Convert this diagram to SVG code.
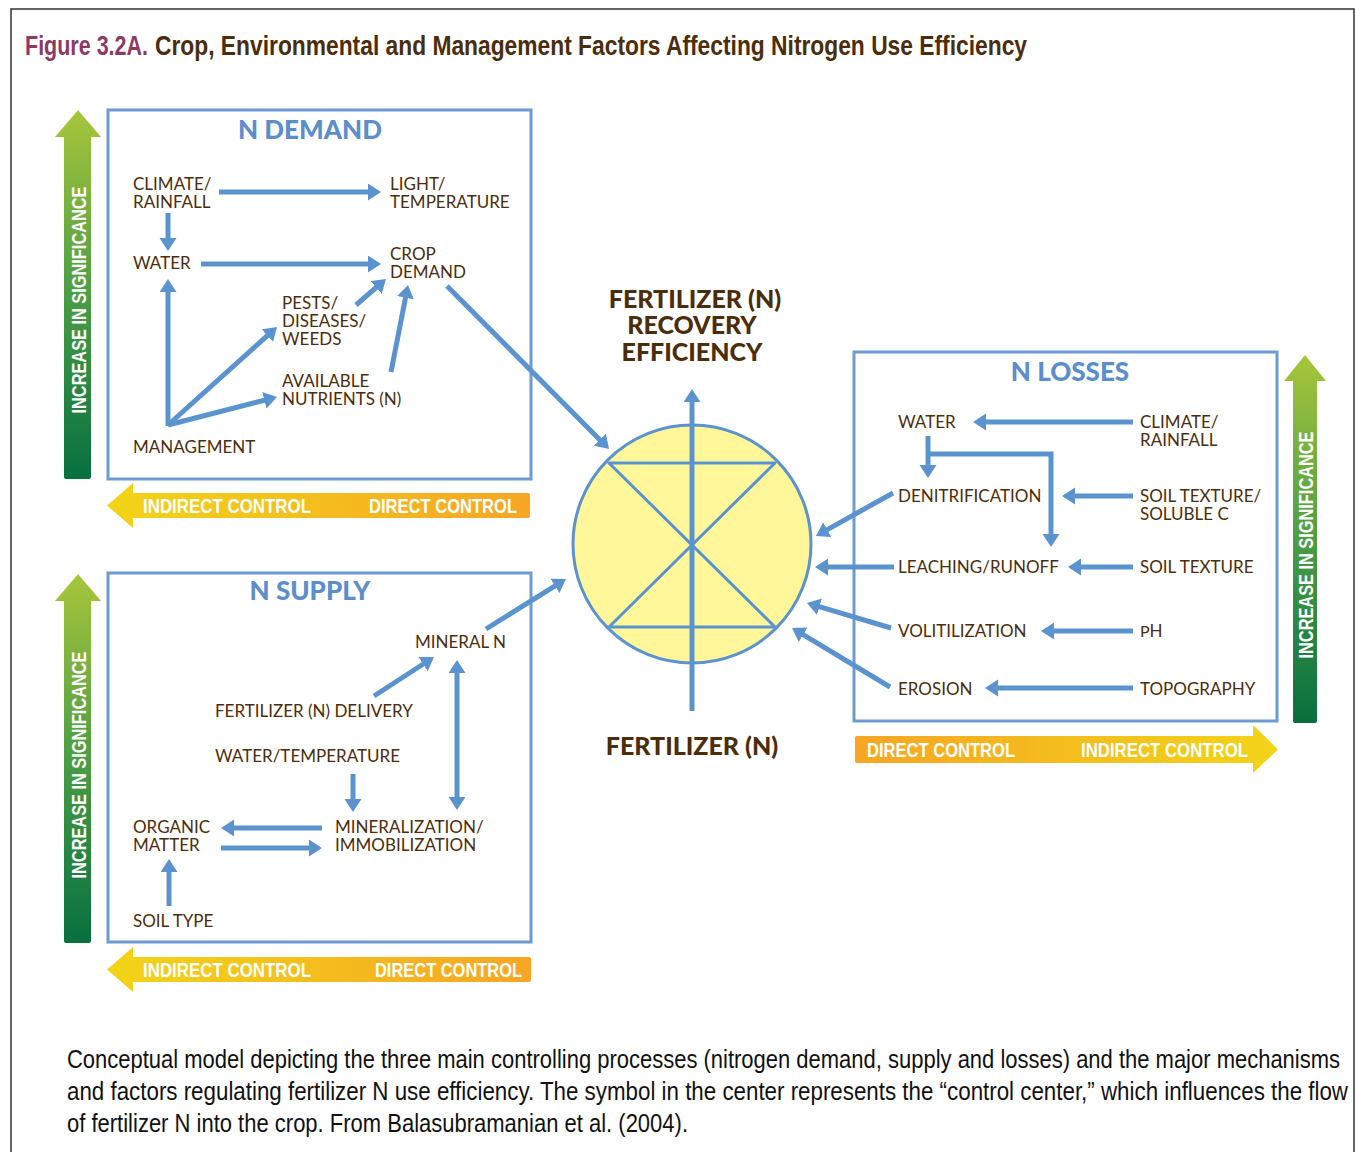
<svg xmlns="http://www.w3.org/2000/svg" width="1356" height="1152" viewBox="0 0 1356 1152">
<style>
.lbl{font-family:Lato,"Liberation Sans",sans-serif;font-size:17px;fill:#4b2d0b}
.btitle{font-family:Lato,"Liberation Sans",sans-serif;font-size:26px;font-weight:900;fill:#5b8ecb}
.ctitle{font-family:Lato,"Liberation Sans",sans-serif;font-size:25px;font-weight:900;fill:#4b2d0b;text-anchor:middle}
.box{fill:none;stroke:#6b9bd2;stroke-width:3}
.conn{fill:none;stroke:#5b93cf;stroke-width:5}
.ctl{font-family:"Liberation Sans",sans-serif;font-size:20px;font-weight:bold;fill:#ffffff}
.sig{font-family:"Liberation Sans",sans-serif;font-size:21px;font-weight:bold;fill:#ffffff;text-anchor:middle}
.cap{font-family:"Liberation Sans",sans-serif;font-size:26px;fill:#111111}
</style>
<defs>
<marker id="ah" markerUnits="userSpaceOnUse" markerWidth="16" markerHeight="18" refX="3" refY="8.5" orient="auto-start-reverse">
<path d="M0,0 L13,8.5 L0,17 Z" fill="#5b93cf"/>
</marker>
<linearGradient id="gv" x1="0" y1="0" x2="0" y2="1">
<stop offset="0" stop-color="#a8c53a"/>
<stop offset="0.5" stop-color="#4b9d45"/>
<stop offset="1" stop-color="#07703f"/>
</linearGradient>
<linearGradient id="goL" x1="0" y1="0" x2="1" y2="0">
<stop offset="0" stop-color="#f2d417"/>
<stop offset="1" stop-color="#f6a624"/>
</linearGradient>
<linearGradient id="goR" x1="0" y1="0" x2="1" y2="0">
<stop offset="0" stop-color="#f6a624"/>
<stop offset="1" stop-color="#f2d417"/>
</linearGradient>
</defs>

<rect x="11" y="9" width="1343" height="1160" fill="#ffffff" stroke="#333333" stroke-width="1.5"/>

<g id="title">
<text x="25" y="55" font-family="Liberation Sans,sans-serif" font-size="27" font-weight="bold" fill="#8b3a62" textLength="123" lengthAdjust="spacingAndGlyphs">Figure 3.2A.</text>
<text x="155" y="55" font-family="Liberation Sans,sans-serif" font-size="27" font-weight="bold" fill="#4b2d0b" textLength="872" lengthAdjust="spacingAndGlyphs">Crop, Environmental and Management Factors Affecting Nitrogen Use Efficiency</text>
</g>

<!-- significance / control arrows -->
<g id="sig-demand">
<path d="M78,110 L101,137 L91,137 L91,477 Q91,479 89,479 L66,479 Q64,479 64,477 L64,137 L55,137 Z" fill="url(#gv)"/>
<text class="sig" transform="translate(85.5,300) rotate(-90)" textLength="227" lengthAdjust="spacingAndGlyphs">INCREASE IN SIGNIFICANCE</text>
</g>
<g id="ctl-demand">
<path d="M107,505.5 L133,483 L133,493 L528,493 Q530,493 530,495 L530,516 Q530,518 528,518 L133,518 L133,528 Z" fill="url(#goL)"/>
<text class="ctl" x="143" y="513" textLength="168" lengthAdjust="spacingAndGlyphs">INDIRECT CONTROL</text>
<text class="ctl" x="369" y="513" textLength="148" lengthAdjust="spacingAndGlyphs">DIRECT CONTROL</text>
</g>
<g id="sig-supply">
<path d="M78,574 L101,601 L91,601 L91,941 Q91,943 89,943 L66,943 Q64,943 64,941 L64,601 L55,601 Z" fill="url(#gv)"/>
<text class="sig" transform="translate(85.5,765) rotate(-90)" textLength="227" lengthAdjust="spacingAndGlyphs">INCREASE IN SIGNIFICANCE</text>
</g>
<g id="ctl-supply">
<path d="M107,969.5 L133,947 L133,957 L529,957 Q531,957 531,959 L531,980 Q531,982 529,982 L133,982 L133,992 Z" fill="url(#goL)"/>
<text class="ctl" x="143" y="977" textLength="168" lengthAdjust="spacingAndGlyphs">INDIRECT CONTROL</text>
<text class="ctl" x="375" y="977" textLength="147" lengthAdjust="spacingAndGlyphs">DIRECT CONTROL</text>
</g>
<g id="sig-losses">
<path d="M1305,355 L1326,381 L1317,381 L1317,721 Q1317,723 1315,723 L1295,723 Q1293,723 1293,721 L1293,381 L1284,381 Z" fill="url(#gv)"/>
<text class="sig" transform="translate(1312.5,545) rotate(-90)" textLength="227" lengthAdjust="spacingAndGlyphs">INCREASE IN SIGNIFICANCE</text>
</g>
<g id="ctl-losses">
<path d="M857,736 L1253,736 L1253,725 L1278,749.5 L1253,773 L1253,763 L857,763 Q855,763 855,761 L855,738 Q855,736 857,736 Z" fill="url(#goR)"/>
<text class="ctl" x="867" y="757" textLength="148" lengthAdjust="spacingAndGlyphs">DIRECT CONTROL</text>
<text class="ctl" x="1081" y="757" textLength="167" lengthAdjust="spacingAndGlyphs">INDIRECT CONTROL</text>
</g>

<!-- boxes -->
<g id="n-demand">
<rect class="box" x="108" y="110" width="423" height="369"/>
<text class="btitle" x="310" y="139" text-anchor="middle">N DEMAND</text>
</g>
<g id="n-supply">
<rect class="box" x="108" y="573" width="423" height="369"/>
<text class="btitle" x="310" y="600" text-anchor="middle">N SUPPLY</text>
</g>
<g id="n-losses">
<rect class="box" x="854" y="352" width="423" height="369"/>
<text class="btitle" x="1070" y="381" text-anchor="middle">N LOSSES</text>
</g>

<!-- demand nodes -->
<g id="d-climate"><text class="lbl" x="133" y="190">CLIMATE/</text><text class="lbl" x="133" y="208">RAINFALL</text></g>
<g id="d-light"><text class="lbl" x="390" y="190">LIGHT/</text><text class="lbl" x="390" y="208">TEMPERATURE</text></g>
<g id="d-water"><text class="lbl" x="133" y="269">WATER</text></g>
<g id="d-crop"><text class="lbl" x="390" y="260">CROP</text><text class="lbl" x="390" y="278">DEMAND</text></g>
<g id="d-pests"><text class="lbl" x="282" y="309">PESTS/</text><text class="lbl" x="282" y="327">DISEASES/</text><text class="lbl" x="282" y="345">WEEDS</text></g>
<g id="d-avail"><text class="lbl" x="282" y="387">AVAILABLE</text><text class="lbl" x="282" y="405">NUTRIENTS (N)</text></g>
<g id="d-mgmt"><text class="lbl" x="133" y="453">MANAGEMENT</text></g>

<!-- supply nodes -->
<g id="s-mineral"><text class="lbl" x="415" y="648">MINERAL N</text></g>
<g id="s-fert"><text class="lbl" x="215" y="717">FERTILIZER (N) DELIVERY</text></g>
<g id="s-watertemp"><text class="lbl" x="215" y="762">WATER/TEMPERATURE</text></g>
<g id="s-organic"><text class="lbl" x="133" y="833">ORGANIC</text><text class="lbl" x="133" y="851">MATTER</text></g>
<g id="s-minimm"><text class="lbl" x="335" y="833">MINERALIZATION/</text><text class="lbl" x="335" y="851">IMMOBILIZATION</text></g>
<g id="s-soiltype"><text class="lbl" x="133" y="927">SOIL TYPE</text></g>

<!-- losses nodes -->
<g id="l-water"><text class="lbl" x="898" y="428">WATER</text></g>
<g id="l-climate"><text class="lbl" x="1140" y="428">CLIMATE/</text><text class="lbl" x="1140" y="446">RAINFALL</text></g>
<g id="l-denit"><text class="lbl" x="898" y="502">DENITRIFICATION</text></g>
<g id="l-soiltexc"><text class="lbl" x="1140" y="502">SOIL TEXTURE/</text><text class="lbl" x="1140" y="520">SOLUBLE C</text></g>
<g id="l-leach"><text class="lbl" x="898" y="573">LEACHING/RUNOFF</text></g>
<g id="l-soiltex"><text class="lbl" x="1140" y="573">SOIL TEXTURE</text></g>
<g id="l-vol"><text class="lbl" x="898" y="637">VOLITILIZATION</text></g>
<g id="l-ph"><text class="lbl" x="1140" y="637" font-size="18"><tspan font-size="16">P</tspan>H</text></g>
<g id="l-erosion"><text class="lbl" x="898" y="695">EROSION</text></g>
<g id="l-topo"><text class="lbl" x="1140" y="695">TOPOGRAPHY</text></g>

<!-- center -->
<g id="center">
<text class="ctitle" x="695" y="308">FERTILIZER (N)</text>
<text class="ctitle" x="692" y="334">RECOVERY</text>
<text class="ctitle" x="692" y="361">EFFICIENCY</text>
<circle cx="692" cy="544" r="119" fill="#fff799" stroke="#5b93cf" stroke-width="3"/>
<path d="M609,463 H775 L609,627 H775 Z" fill="none" stroke="#5b93cf" stroke-width="3" stroke-linejoin="round"/>
<text class="ctitle" x="692" y="755">FERTILIZER (N)</text>
</g>

<g id="connectors">
<line class="conn" x1="692" y1="711" x2="692" y2="399" marker-end="url(#ah)"/>
<!-- demand -->
<line class="conn" x1="219" y1="192" x2="371" y2="192" marker-end="url(#ah)"/>
<line class="conn" x1="168" y1="213" x2="168" y2="241" marker-end="url(#ah)"/>
<line class="conn" x1="201" y1="264" x2="371" y2="264" marker-end="url(#ah)"/>
<line class="conn" x1="168" y1="426" x2="168" y2="289" marker-end="url(#ah)"/>
<line class="conn" x1="168" y1="425" x2="269.6" y2="333.7" marker-end="url(#ah)"/>
<line class="conn" x1="168" y1="425" x2="267.3" y2="399.5" marker-end="url(#ah)"/>
<line class="conn" x1="356" y1="305" x2="378.4" y2="285.5" marker-end="url(#ah)"/>
<line class="conn" x1="391" y1="372" x2="406.1" y2="294.8" marker-end="url(#ah)"/>
<line class="conn" x1="447" y1="286" x2="602" y2="441.9" marker-end="url(#ah)"/>
<!-- losses -->
<line class="conn" x1="1133" y1="422" x2="983" y2="422" marker-end="url(#ah)"/>
<line class="conn" x1="928" y1="436" x2="928" y2="468" marker-end="url(#ah)"/>
<path class="conn" d="M928,454 H1051 V537" marker-end="url(#ah)"/>
<line class="conn" x1="1133" y1="496" x2="1072" y2="496" marker-end="url(#ah)"/>
<line class="conn" x1="1133" y1="567" x2="1078" y2="567" marker-end="url(#ah)"/>
<line class="conn" x1="1133" y1="631" x2="1051" y2="631" marker-end="url(#ah)"/>
<line class="conn" x1="1133" y1="688" x2="995" y2="688" marker-end="url(#ah)"/>
<line class="conn" x1="893" y1="493" x2="824.7" y2="531.1" marker-end="url(#ah)"/>
<line class="conn" x1="894" y1="567" x2="825" y2="567" marker-end="url(#ah)"/>
<line class="conn" x1="891" y1="628" x2="816.6" y2="605.9" marker-end="url(#ah)"/>
<line class="conn" x1="890" y1="687" x2="800.6" y2="633.2" marker-end="url(#ah)"/>
<!-- supply -->
<line class="conn" x1="486" y1="629" x2="557.5" y2="584.3" marker-end="url(#ah)"/>
<line class="conn" x1="374" y1="696" x2="425.6" y2="662.5" marker-end="url(#ah)"/>
<line class="conn" x1="457" y1="670" x2="457" y2="800" marker-start="url(#ah)" marker-end="url(#ah)"/>
<line class="conn" x1="353" y1="774" x2="353" y2="802" marker-end="url(#ah)"/>
<line class="conn" x1="322" y1="828" x2="231" y2="828" marker-end="url(#ah)"/>
<line class="conn" x1="221" y1="848" x2="312" y2="848" marker-end="url(#ah)"/>
<line class="conn" x1="169" y1="906" x2="169" y2="869" marker-end="url(#ah)"/>
</g>

<g id="caption">
<text class="cap" x="67" y="1068" textLength="1273" lengthAdjust="spacingAndGlyphs">Conceptual model depicting the three main controlling processes (nitrogen demand, supply and losses) and the major mechanisms</text>
<text class="cap" x="67" y="1100" textLength="1281" lengthAdjust="spacingAndGlyphs">and factors regulating fertilizer N use efficiency. The symbol in the center represents the “control center,” which influences the flow</text>
<text class="cap" x="67" y="1132" textLength="621" lengthAdjust="spacingAndGlyphs">of fertilizer N into the crop. From Balasubramanian et al. (2004).</text>
</g>
</svg>
